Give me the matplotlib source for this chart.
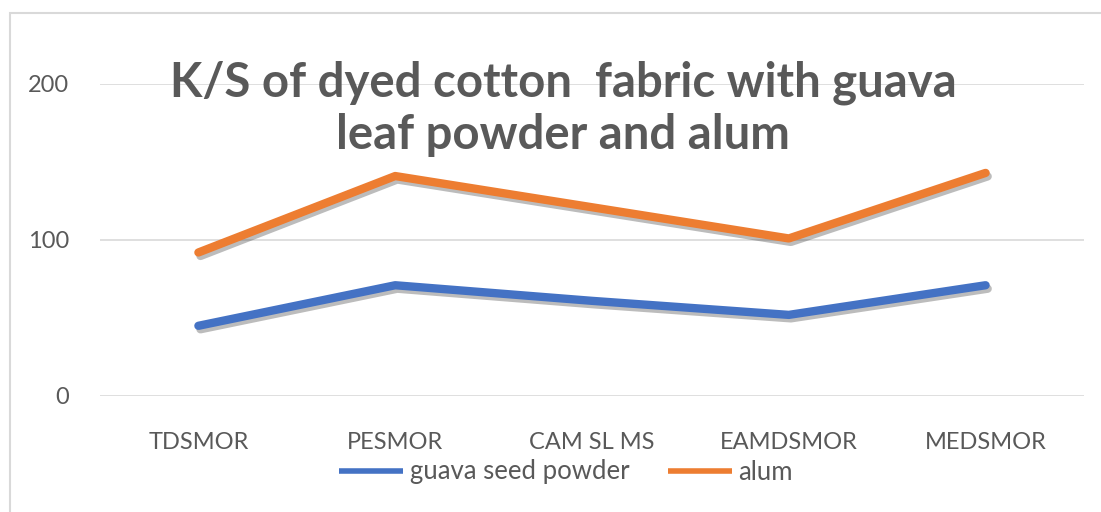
import matplotlib
matplotlib.use("Agg")
import matplotlib.pyplot as plt
import matplotlib.patheffects as pe
from matplotlib.patches import Rectangle

# data
categories = ["TDSMOR", "PESMOR", "CAM SL MS", "EAMDSMOR", "MEDSMOR"]
seed_powder = [45, 71, 61, 52, 71]
alum = [92, 141, 121, 101, 143]
y_ticks = [0, 100, 200]

plt.rcParams['font.family'] = ['Lato', 'DejaVu Sans']
text_grey = '#595959'

fig = plt.figure(figsize=(11.01, 5.12), dpi=100)
ax = fig.add_axes([100 / 1101, 1 - 396 / 512, (1084 - 100) / 1101, (396 - 84) / 512])

# light border round the whole chart
fig.patches.append(Rectangle((10 / 1101, -0.1), 1.2, 1 - 13 / 512 + 0.1, transform=fig.transFigure,
                             fill=False, edgecolor='#d9d9d9', linewidth=1.5, zorder=0))

shadow = [pe.SimpleLineShadow(offset=(1.5, -2.5), alpha=0.35, shadow_color='#404040'), pe.Normal()]
x = range(len(categories))
ax.plot(x, seed_powder, color='#4472C4', linewidth=6, solid_capstyle='round',
        label='guava seed powder', path_effects=shadow, zorder=3)
ax.plot(x, alum, color='#ED7D31', linewidth=6, solid_capstyle='round',
        label='alum', path_effects=shadow, zorder=3)

ax.set_xlim(-0.5, len(categories) - 0.5)
ax.set_ylim(0, 200)
ax.set_yticks(y_ticks)
ax.set_xticks(list(x))
ax.set_xticklabels(categories)
ax.grid(axis='y', color='#d9d9d9', linewidth=1.2)
ax.set_axisbelow(True)
for s in ax.spines.values():
    s.set_visible(False)
ax.tick_params(length=0, labelsize=17, colors=text_grey)
ax.tick_params(axis='y', pad=22)
ax.tick_params(axis='x', pad=26)
for ln in ax.lines:
    ln.set_clip_on(False)

# title sits over the plot area, as in the reference
fig.text(563 / 1101, 1 - 109 / 512, "K/S of dyed cotton  fabric with guava\nleaf powder and alum",
         ha='center', va='center', fontsize=34, fontweight='bold', color=text_grey,
         linespacing=1.22, zorder=5)

leg = fig.legend(loc='center', bbox_to_anchor=(566 / 1101, 1 - 472 / 512), ncol=2, frameon=False,
                 fontsize=18.5, handlelength=2.5, handletextpad=0.25, columnspacing=1.5)
for t in leg.get_texts():
    t.set_color(text_grey)
for h in leg.legend_handles:
    h.set_linewidth(4)
    h.set_solid_capstyle('butt')
    h.set_path_effects([])

fig.savefig("out.png", dpi=100)
